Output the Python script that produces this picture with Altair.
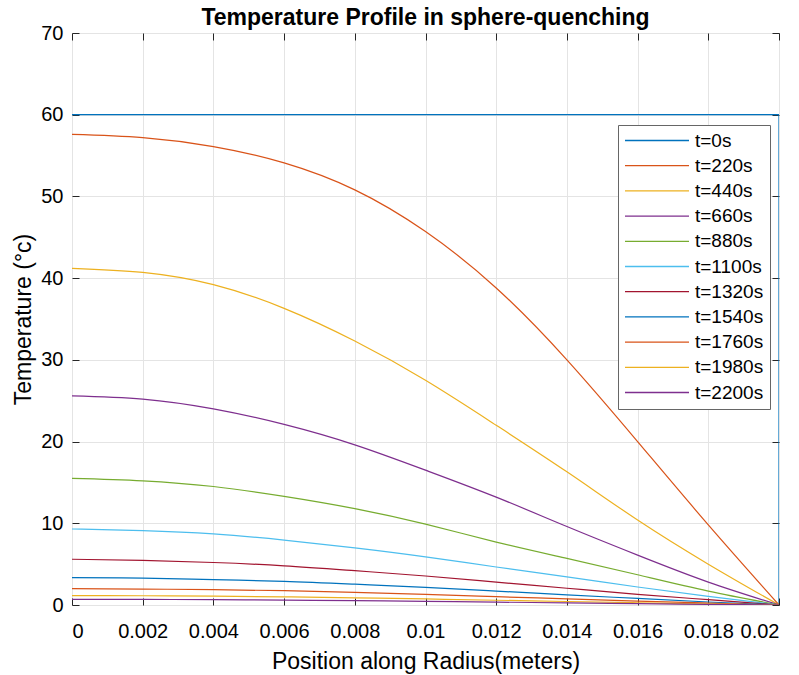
import altair as alt
import pandas as pd

# ---- data ----
x_pos = [0, 0.002, 0.004, 0.006, 0.008, 0.01, 0.012, 0.014, 0.016, 0.018, 0.02]
y_ticks = [0, 10, 20, 30, 40, 50, 60, 70]

labels = ["t=0s", "t=220s", "t=440s", "t=660s", "t=880s", "t=1100s",
          "t=1320s", "t=1540s", "t=1760s", "t=1980s", "t=2200s"]
colors = ["#0072BD", "#D95319", "#EDB120", "#7E2F8E", "#77AC30", "#4DBEEE",
          "#A2142F", "#0072BD", "#D95319", "#EDB120", "#7E2F8E"]

# t = 0 s (initial profile)
init_x = [0, 0.02, 0.02]
init_T = [60, 60, 0]

T220 = [57.6, 57.2, 56.1, 54.1, 50.8, 45.7, 38.8, 30.0, 20.0, 9.8, 0]
T440 = [41.2, 40.7, 39.2, 36.3, 32.3, 27.5, 22.0, 16.3, 10.4, 5.0, 0]
T660 = [25.6, 25.2, 24.0, 22.1, 19.6, 16.5, 13.2, 9.6, 6.1, 2.8, 0]
T880 = [15.5, 15.2, 14.5, 13.3, 11.8, 9.9, 7.7, 5.7, 3.7, 1.7, 0]
T1100 = [9.3, 9.1, 8.7, 7.95, 7.0, 5.9, 4.65, 3.45, 2.2, 1.05, 0]
T1320 = [5.6, 5.45, 5.2, 4.8, 4.2, 3.55, 2.8, 2.05, 1.3, 0.65, 0]
T1540 = [3.35, 3.3, 3.1, 2.9, 2.55, 2.15, 1.7, 1.25, 0.8, 0.37, 0]
T1760 = [2.0, 1.95, 1.88, 1.75, 1.55, 1.3, 1.02, 0.75, 0.48, 0.23, 0]
T1980 = [1.15, 1.13, 1.08, 1.0, 0.88, 0.74, 0.58, 0.43, 0.27, 0.13, 0]
T2200 = [0.7, 0.69, 0.65, 0.6, 0.53, 0.45, 0.35, 0.26, 0.16, 0.08, 0]

series = [T220, T440, T660, T880, T1100, T1320, T1540, T1760, T1980, T2200]

rows = []
for lab, vals in zip(labels[1:], series):
    for i, (xv, tv) in enumerate(zip(x_pos, vals)):
        rows.append({"x": xv, "T": tv, "label": lab, "i": i})
curves_df = pd.DataFrame(rows)

init_df = pd.DataFrame({"x": init_x, "T": init_T, "label": labels[0],
                        "i": list(range(len(init_x)))})

FONT = "Liberation Sans"
TXT = "#262626"
GRID = "#e4e4e4"

x_scale = alt.Scale(domain=[0, 0.02], nice=False, zero=False)
y_scale = alt.Scale(domain=[0, 70], nice=False, zero=False)

color_enc = alt.Color(
    "label:N",
    scale=alt.Scale(domain=labels, range=colors),
    sort=labels,
    legend=alt.Legend(
        orient="none", legendX=546, legendY=92, title=None,
        symbolType="stroke", symbolSize=4096, symbolStrokeWidth=1.3,
        clipHeight=19, labelFontSize=19, labelFont=FONT, labelColor="#000",
        rowPadding=5.2, padding=6, labelOffset=5,
        strokeColor="#666", fillColor="white",
    ),
)

curves = alt.Chart(curves_df).mark_line(
    strokeWidth=1.2, interpolate="natural", clip=True
).encode(
    x=alt.X("x:Q", scale=x_scale, axis=alt.Axis(
        orient="bottom", values=x_pos, format="~g", grid=True,
        gridColor=GRID, domain=False, offset=-7, tickSize=7,
        tickColor=TXT, labelPadding=16, labelFontSize=20,
        title="Position along Radius(meters)", titleFontSize=23,
        titlePadding=9, titleFontWeight="normal")),
    y=alt.Y("T:Q", scale=y_scale, axis=alt.Axis(
        orient="left", values=y_ticks, grid=True, gridColor=GRID,
        domain=False, offset=-7, tickSize=7, tickColor=TXT,
        labelPadding=9, labelFontSize=20,
        title="Temperature (°c)", titleFontSize=23, titlePadding=5,
        titleFontWeight="normal")),
    color=color_enc,
    detail="label:N",
    order=alt.Order("i:Q"),
)

initial = alt.Chart(init_df).mark_line(strokeWidth=1.2, clip=True).encode(
    x=alt.X("x:Q", scale=x_scale, axis=alt.Axis(
        orient="top", values=x_pos, grid=False, labels=False,
        domain=False, offset=-7, tickSize=7, tickColor=TXT, title=None)),
    y=alt.Y("T:Q", scale=y_scale, axis=alt.Axis(
        orient="right", values=y_ticks, grid=False, labels=False,
        domain=False, offset=-7, tickSize=7, tickColor=TXT, title=None)),
    color=color_enc,
    order=alt.Order("i:Q"),
)

chart = alt.layer(initial, curves).resolve_axis(
    x="independent", y="independent"
).properties(
    width=707, height=572,
    title=alt.Title("Temperature Profile in sphere-quenching", fontSize=23,
                    fontWeight="bold", font=FONT, color="#000", offset=-7,
                    anchor="middle", frame="group"),
    autosize=alt.AutoSizeParams(type="none"),
    padding={"left": 72, "top": 33, "right": 20, "bottom": 70},
).configure_view(
    stroke="#555", strokeWidth=1
).configure_axis(
    labelFont=FONT, titleFont=FONT, labelColor=TXT, titleColor=TXT
).configure(background="white")

chart.save("out.html", embed_options={"renderer": "svg", "actions": False})
